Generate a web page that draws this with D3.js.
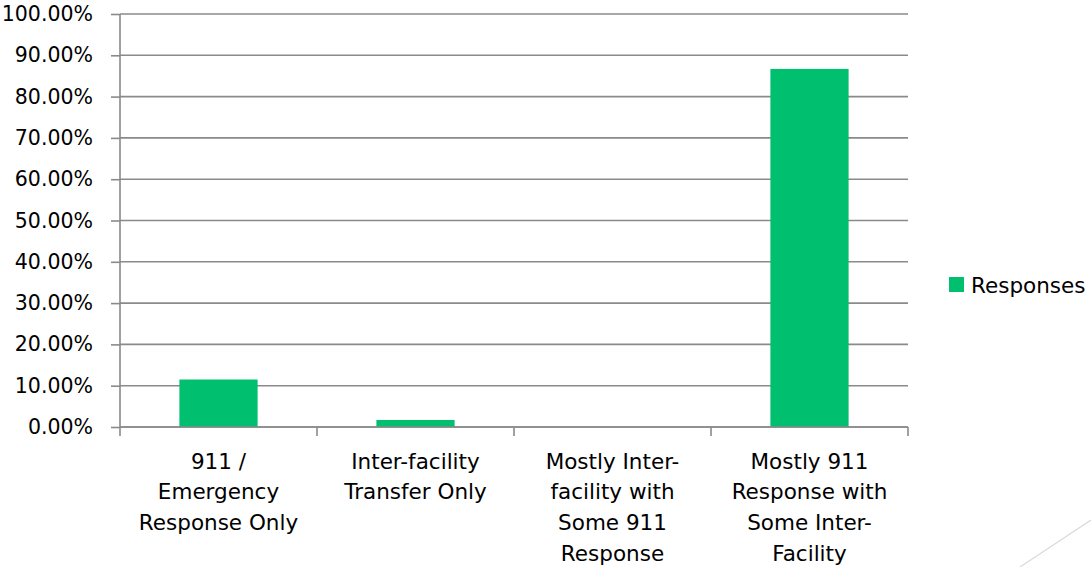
<!DOCTYPE html>
<html><head><meta charset="utf-8">
<script src="https://cdn.jsdelivr.net/npm/d3@7"></script>
<style>body{margin:0;background:#fff;} svg{display:block;}</style>
</head><body>
<svg id="c" width="1091" height="567"></svg>
<script>
const categories = [
  ["911 /", "Emergency", "Response Only"],
  ["Inter-facility", "Transfer Only"],
  ["Mostly Inter-", "facility with", "Some 911", "Response"],
  ["Mostly 911", "Response with", "Some Inter-", "Facility"]
];
const catKeys = ["911 / Emergency Response Only", "Inter-facility Transfer Only", "Mostly Inter-facility with Some 911 Response", "Mostly 911 Response with Some Inter-Facility"];
const responses = [0.115, 0.017, 0, 0.867];
const yTicks = [0, 0.1, 0.2, 0.3, 0.4, 0.5, 0.6, 0.7, 0.8, 0.9, 1.0];
const seriesName = "Responses";

const svg = d3.select("#c");
const font = "'DejaVu Sans', sans-serif";
const pLeft = 120, pRight = 908, pTop = 14, pBottom = 427;
const grid = "#8a8a8a";
const barColor = "#00BF6F";

const x = d3.scaleBand().domain(catKeys).range([pLeft, pRight]).paddingInner(0).paddingOuter(0);
const y = d3.scaleLinear().domain([0, 1]).range([pBottom, pTop]);

// gridlines
svg.append("g").selectAll("line").data(yTicks).join("line")
  .attr("x1", pLeft).attr("x2", pRight)
  .attr("y1", d => y(d)).attr("y2", d => y(d))
  .attr("stroke", grid).attr("stroke-width", 1.6);

// bars
const bw = x.bandwidth() * 0.397;
svg.append("g").selectAll("rect").data(responses).join("rect")
  .attr("x", (d, i) => x(catKeys[i]) + (x.bandwidth() - bw) / 2)
  .attr("width", bw)
  .attr("y", d => y(d))
  .attr("height", d => y(0) - y(d))
  .attr("fill", barColor);

// y axis
const yAxis = d3.axisLeft(y).tickValues(yTicks).tickSize(9).tickPadding(8)
  .tickFormat(d => (d * 100).toFixed(2) + "%");
const gy = svg.append("g").attr("transform", `translate(${pLeft},0)`).call(yAxis);
gy.select(".domain").attr("stroke", grid).attr("stroke-width", 1.6).attr("d", `M0,${pTop}V${pBottom}`);
gy.selectAll(".tick line").attr("stroke", grid).attr("stroke-width", 1.6);
gy.selectAll(".tick text").attr("font-family", font).attr("font-size", 20.5).attr("fill", "#000").attr("x", -27);

// x axis
svg.append("line").attr("x1", pLeft).attr("x2", pRight).attr("y1", pBottom).attr("y2", pBottom)
  .attr("stroke", grid).attr("stroke-width", 1.6);
const bounds = catKeys.map(k => x(k)).concat([pRight]);
svg.append("g").selectAll("line").data(bounds).join("line")
  .attr("x1", d => d).attr("x2", d => d).attr("y1", pBottom).attr("y2", pBottom + 9)
  .attr("stroke", grid).attr("stroke-width", 1.6);

svg.append("g").selectAll("text").data(categories).join("text")
  .attr("x", (d, i) => x(catKeys[i]) + x.bandwidth() / 2)
  .attr("y", 468.5)
  .attr("text-anchor", "middle")
  .attr("font-family", font).attr("font-size", 21.5).attr("fill", "#000")
  .each(function(lines) {
    const t = d3.select(this);
    lines.forEach((l, j) => t.append("tspan").attr("x", t.attr("x")).attr("dy", j === 0 ? 0 : 30.8).text(l));
  });

// legend
svg.append("rect").attr("x", 949).attr("y", 277).attr("width", 15).attr("height", 15).attr("fill", barColor);
svg.append("text").attr("x", 971).attr("y", 293).attr("font-family", font).attr("font-size", 21.5)
  .attr("fill", "#000").text(seriesName);

// decorative line
svg.append("line").attr("x1", 1020).attr("y1", 567).attr("x2", 1091).attr("y2", 520)
  .attr("stroke", "#d9d9d9").attr("stroke-width", 1.2);
</script>
</body></html>
